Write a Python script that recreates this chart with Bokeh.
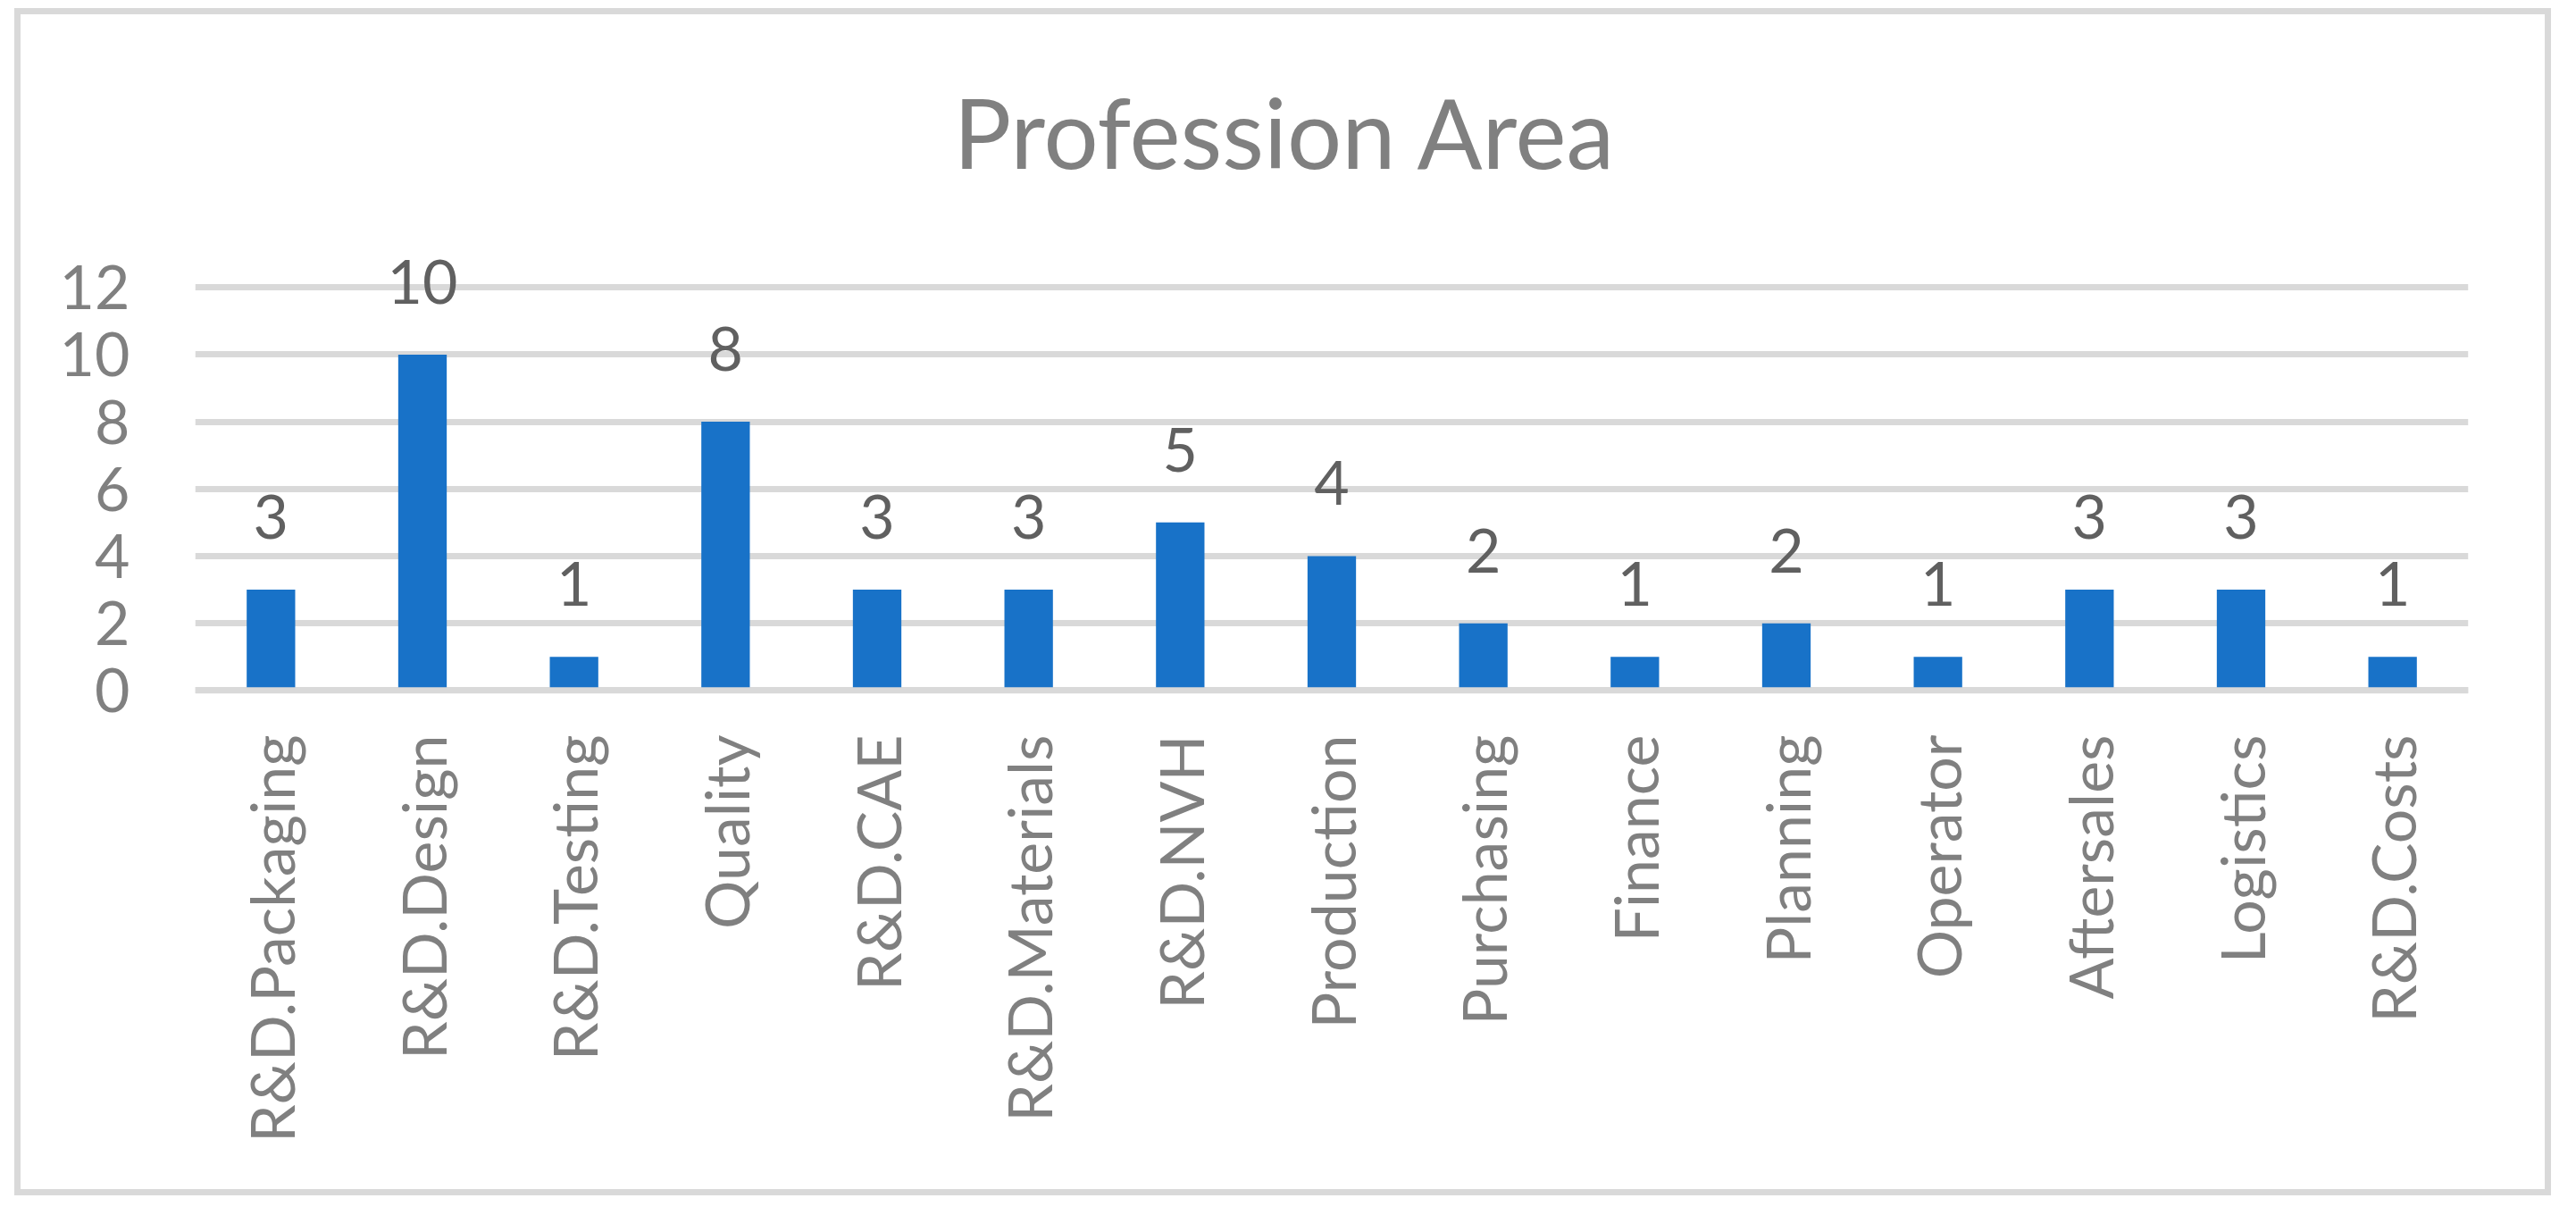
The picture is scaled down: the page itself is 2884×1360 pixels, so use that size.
from bokeh.plotting import figure
from bokeh.models import (FactorRange, Range1d, FixedTicker, ColumnDataSource,
                          LabelSet, Span, Title)
from bokeh.core.properties import value
from bokeh.embed import file_html
from bokeh.resources import INLINE
import math

# ---- data ----
categories = ["R&D.Packaging", "R&D.Design", "R&D.Testing", "Quality", "R&D.CAE",
              "R&D.Materials", "R&D.NVH", "Production", "Purchasing", "Finance",
              "Planning", "Operator", "Aftersales", "Logistics", "R&D.Costs"]
counts = [3, 10, 1, 8, 3, 3, 5, 4, 2, 1, 2, 1, 3, 3, 1]
y_ticks = [0, 2, 4, 6, 8, 10, 12]
title_text = "Profession Area"

FONT = "Lato"
W, H = 2826, 1315
BAR = "#1872C8"
GRID = "#D9D9D9"
LABEL = "#808080"
DLABEL = "#606060"

src = ColumnDataSource(dict(cat=categories, n=counts, txt=[str(v) for v in counts]))

p = figure(width=W, height=H, output_backend="svg", toolbar_location=None,
           x_range=FactorRange(*categories, range_padding=0),
           y_range=Range1d(-0.15, 14),
           min_border_left=195, min_border_right=86,
           min_border_top=230, min_border_bottom=553)

# place the chart box like the reference; light grey border drawn just outside it
p.margin = (16, 0, 0, 23)
p.styles = {"outline": "7px solid #D9D9D9", "outline-offset": "0px"}

p.title = Title(text=title_text, align="left", offset=849, text_font=FONT,
                text_font_size="108px", text_color=LABEL, text_font_style="normal",
                standoff=69)

p.background_fill_color = "white"
p.border_fill_color = "white"
p.outline_line_color = None

p.vbar(x="cat", top="n", width=0.32, bottom=0, source=src,
       fill_color=BAR, line_color=None)

# grid
p.xgrid.grid_line_color = None
p.ygrid.ticker = FixedTicker(ticks=y_ticks)
p.ygrid.grid_line_color = GRID
p.ygrid.grid_line_width = 7
p.add_layout(Span(location=0, dimension="width", line_color=GRID, line_width=7))

# y axis
p.yaxis.ticker = FixedTicker(ticks=y_ticks)
p.yaxis.axis_line_color = None
p.yaxis.major_tick_line_color = None
p.yaxis.minor_tick_line_color = None
p.yaxis.major_tick_in = 0
p.yaxis.major_tick_out = 0
p.yaxis.major_label_standoff = 73
p.yaxis.major_label_text_font = FONT
p.yaxis.major_label_text_font_size = "68px"
p.yaxis.major_label_text_color = LABEL

# x axis
p.xaxis.axis_line_color = None
p.xaxis.major_tick_line_color = None
p.xaxis.major_tick_in = 0
p.xaxis.major_tick_out = 0
p.xaxis.major_label_orientation = math.pi / 2
p.xaxis.major_label_standoff = 44
p.xaxis.major_label_text_font = FONT
p.xaxis.major_label_text_font_size = "68px"
p.xaxis.major_label_text_color = LABEL

# data labels
labels = LabelSet(x="cat", y="n", text="txt", source=src, y_offset=57,
                  text_align="center", text_baseline="alphabetic",
                  text_font=value(FONT), text_font_size=value("68px"),
                  text_color=DLABEL)
p.add_layout(labels)

open("out.html", "w").write(file_html(p, INLINE))
